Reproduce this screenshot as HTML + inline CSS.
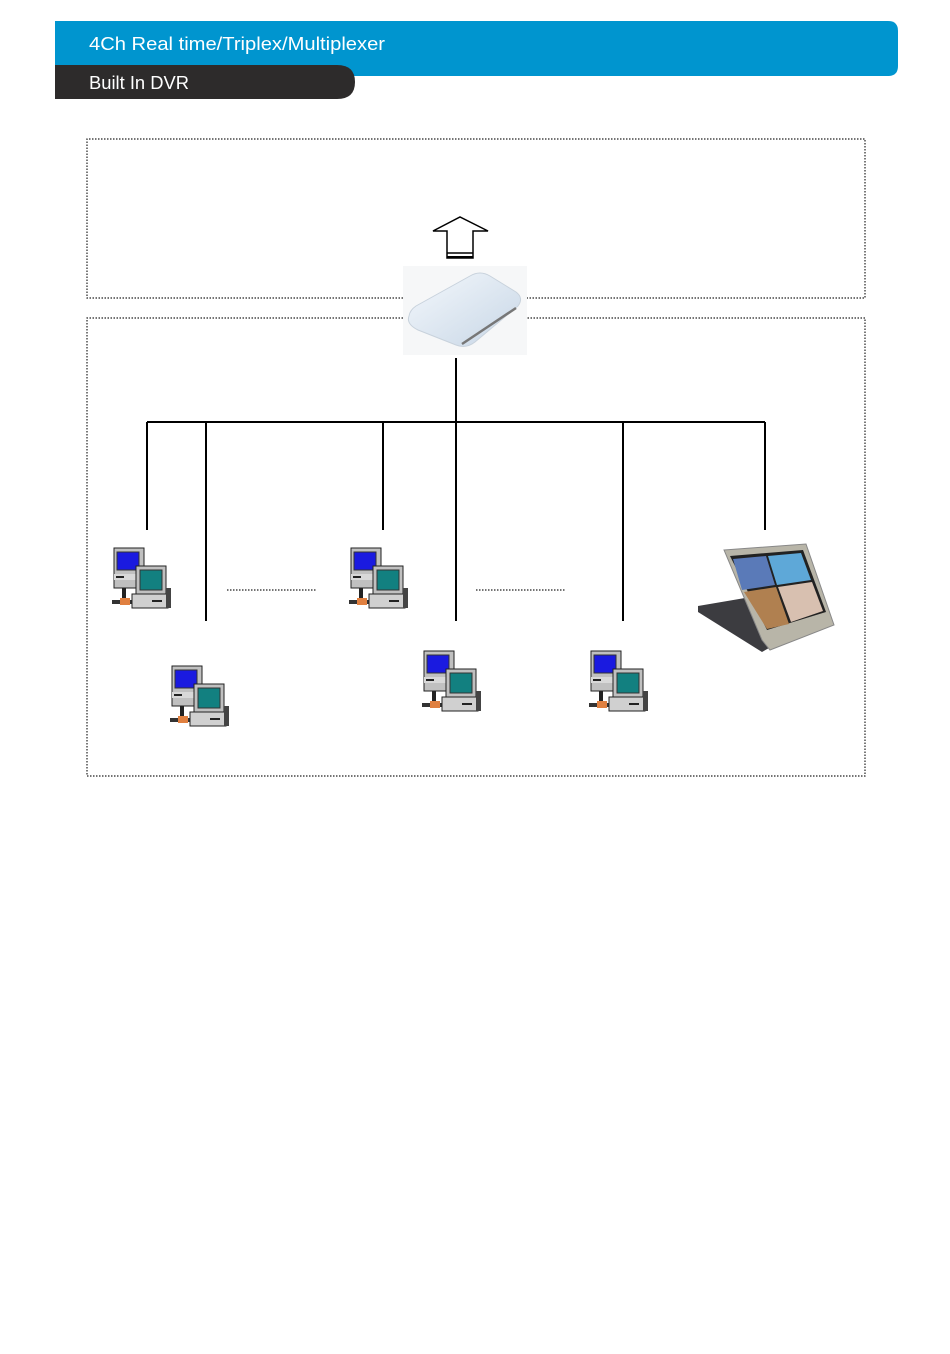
<!DOCTYPE html>
<html><head><style>
html,body{margin:0;padding:0;background:#fff;width:950px;height:1354px;overflow:hidden;}
</style></head><body>
<svg width="950" height="1354" viewBox="0 0 950 1354" xmlns="http://www.w3.org/2000/svg">
<defs>
<linearGradient id="hdd" x1="0" y1="0" x2="1" y2="1">
<stop offset="0" stop-color="#f4f8fc"/><stop offset="1" stop-color="#c7d6e6"/></linearGradient>
<g id="pc">
<rect x="2" y="0" width="30" height="40" fill="#c0c0c0" stroke="#222" stroke-width="1"/>
<rect x="5" y="4" width="22" height="18" fill="#1a1ae0" stroke="#333"/>
<rect x="2" y="26" width="26" height="6" fill="#d8d8d8"/>
<rect x="4" y="28" width="8" height="2" fill="#222"/>
<rect x="10" y="40" width="4" height="12" fill="#222"/>
<rect x="0" y="52" width="24" height="4" fill="#333"/>
<rect x="8" y="50" width="10" height="7" fill="#e08040"/>
<rect x="24" y="18" width="30" height="28" fill="#c0c0c0" stroke="#222"/>
<rect x="28" y="22" width="22" height="20" fill="#128080" stroke="#333"/>
<rect x="20" y="46" width="36" height="14" fill="#d0d0d0" stroke="#222"/>
<rect x="40" y="52" width="10" height="2" fill="#222"/>
<rect x="54" y="40" width="5" height="20" fill="#444"/>
</g>
</defs>
<!-- header -->
<path d="M55 21 H888 Q898 21 898 31 V66 Q898 76 888 76 H55 Z" fill="#0095cf"/>
<path d="M55 65 H337 Q355 65 355 82 Q355 99 337 99 H55 Z" fill="#2d2b2b"/>
<text x="89" y="50" font-family="Liberation Sans, sans-serif" font-size="18" fill="#fff" textLength="296" lengthAdjust="spacingAndGlyphs">4Ch Real time/Triplex/Multiplexer</text>
<text x="89" y="89" font-family="Liberation Sans, sans-serif" font-size="18" fill="#fff" textLength="100" lengthAdjust="spacingAndGlyphs">Built In DVR</text>
<!-- boxes -->
<g fill="none" stroke="#222" stroke-width="1.2" stroke-dasharray="1.5,1.5">
<path d="M403 298 H87 V139 H865 V298 H527"/>
<path d="M403 318 H87 V776 H865 V318 H527"/>
<line x1="227" y1="590" x2="316" y2="590"/>
<line x1="476" y1="590" x2="565" y2="590"/>
</g>
<!-- arrow -->
<path d="M447 258 V231 H433 L460 217 L488 231 H473 V258 Z" fill="#fff" stroke="#000" stroke-width="1.5"/>
<line x1="447" y1="253" x2="473" y2="253" stroke="#000" stroke-width="1.5"/>
<line x1="447" y1="257" x2="473" y2="257" stroke="#000" stroke-width="2"/>
<!-- hdd -->
<rect x="403" y="266" width="124" height="89" fill="#f6f7f8"/>
<path d="M416 306 L470 276 Q480 270 490 276 L516 292 Q524 298 518 306 L475 342 Q466 349 456 345 L418 330 Q406 324 409 316 Q410 310 416 306 Z" fill="url(#hdd)" stroke="#c8d2dc"/>
<path d="M462 344 L516 308" stroke="#777" stroke-width="2.5"/>
<!-- lines -->
<g stroke="#000" stroke-width="2" fill="none">
<line x1="456" y1="358" x2="456" y2="621"/>
<line x1="147" y1="422" x2="765" y2="422"/>
<line x1="147" y1="422" x2="147" y2="530"/>
<line x1="206" y1="422" x2="206" y2="621"/>
<line x1="383" y1="422" x2="383" y2="530"/>
<line x1="623" y1="422" x2="623" y2="621"/>
<line x1="765" y1="422" x2="765" y2="530"/>
</g>
<use href="#pc" x="112" y="548"/>
<use href="#pc" x="349" y="548"/>
<use href="#pc" x="170" y="666"/>
<use href="#pc" x="422" y="651"/>
<use href="#pc" x="589" y="651"/>
<!-- dvr monitor -->
<path d="M698 606 L745 598 L800 630 L762 652 L698 612 Z" fill="#3c3c40"/>
<path d="M724 550 L806 544 L834 625 L770 650 L762 640 Z" fill="#b8b5a8" stroke="#888"/>
<path d="M730 556 L803 550 L826 612 L767 630 Z" fill="#222"/>
<path d="M733 559 L766 556 L775 585 L742 590 Z" fill="#5a7ab8"/>
<path d="M768 556 L801 553 L811 580 L777 585 Z" fill="#5ea8d8"/>
<path d="M744 592 L776 587 L789 624 L767 629 Z" fill="#b08050"/>
<path d="M778 587 L812 582 L823 611 L791 622 Z" fill="#d8c0b0"/>
</svg>
</body></html>
